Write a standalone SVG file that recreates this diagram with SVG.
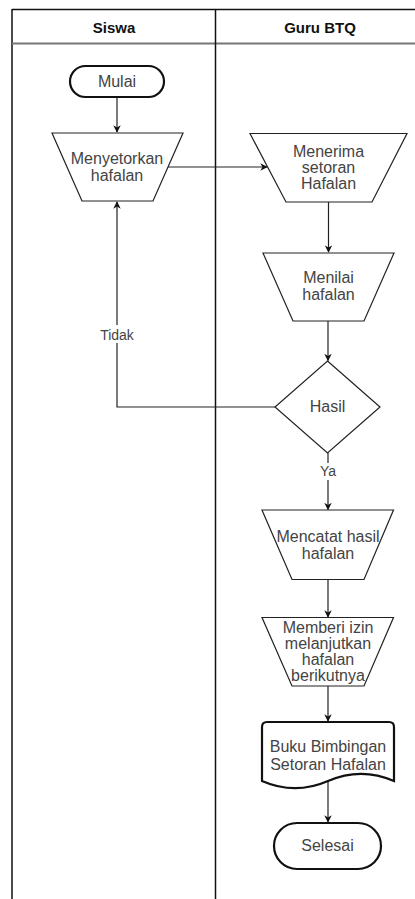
<svg xmlns="http://www.w3.org/2000/svg" width="415" height="899" viewBox="0 0 415 899">
<style>
.t{font-family:"Liberation Sans",Arial,sans-serif;font-size:16px;fill:#444;text-anchor:middle}
.h{font-family:"Liberation Sans",Arial,sans-serif;font-size:15px;font-weight:bold;fill:#111;text-anchor:middle}
.l{font-family:"Liberation Sans",Arial,sans-serif;font-size:14px;fill:#444;text-anchor:middle}
.s{fill:#fff;stroke:#222;stroke-width:1.2}
.k{fill:#fff;stroke:#111;stroke-width:2.2}
.c{fill:none;stroke:#222;stroke-width:1.2}
</style>
<defs>
<marker id="a" viewBox="0 0 10 10" refX="9" refY="5" markerWidth="7.5" markerHeight="7.5" orient="auto" markerUnits="userSpaceOnUse">
<path d="M0,0 L10,5 L0,10 L3,5 Z" fill="#111"/>
</marker>
</defs>
<rect width="415" height="899" fill="#fff"/>
<g id="pool">
<line x1="12" y1="9.5" x2="415" y2="9.5" stroke="#111" stroke-width="1.5"/>
<line x1="12" y1="9" x2="12" y2="899" stroke="#111" stroke-width="1.5"/>
<line x1="12" y1="43.5" x2="415" y2="43.5" stroke="#777" stroke-width="2"/>
<line x1="215.5" y1="9" x2="215.5" y2="899" stroke="#111" stroke-width="1.5"/>
<text class="h" x="114" y="32.5">Siswa</text>
<text class="h" x="320" y="32.5">Guru BTQ</text>
</g>
<g id="connectors">
<line class="c" x1="117" y1="97" x2="117" y2="132" marker-end="url(#a)"/>
<line class="c" x1="168" y1="167" x2="267" y2="167" marker-end="url(#a)"/>
<line class="c" x1="328.5" y1="202" x2="328.5" y2="252" marker-end="url(#a)"/>
<line class="c" x1="328" y1="321" x2="328" y2="360.5" marker-end="url(#a)"/>
<polyline class="c" points="275.5,407 117,407 117,202" marker-end="url(#a)"/>
<line class="c" x1="328" y1="453" x2="328" y2="509.5" marker-end="url(#a)"/>
<line class="c" x1="328" y1="579.5" x2="328" y2="617" marker-end="url(#a)"/>
<line class="c" x1="328" y1="686" x2="328" y2="721" marker-end="url(#a)"/>
<line class="c" x1="328" y1="781" x2="328" y2="822" marker-end="url(#a)"/>
<rect x="97" y="325" width="40" height="18" fill="#fff"/>
<text class="l" x="117" y="339.5">Tidak</text>
<rect x="318" y="463" width="20" height="17" fill="#fff"/>
<text class="l" x="328" y="476">Ya</text>
</g>
<g id="mulai">
<rect class="k" x="70" y="66" width="94" height="31" rx="15.5"/>
<text class="t" x="117" y="87">Mulai</text>
</g>
<g id="menyetorkan">
<polygon class="s" points="52,133 183,133 153,201 82,201"/>
<text class="t" x="117" y="163.5">Menyetorkan</text>
<text class="t" x="117" y="180.5">hafalan</text>
</g>
<g id="menerima">
<polygon class="s" points="250,133.5 407,133.5 372,202 286,202"/>
<text class="t" x="328.5" y="156.7">Menerima</text>
<text class="t" x="328.5" y="172.7">setoran</text>
<text class="t" x="328.5" y="189">Hafalan</text>
</g>
<g id="menilai">
<polygon class="s" points="263,253 394,253 364,321 293,321"/>
<text class="t" x="328.5" y="283.3">Menilai</text>
<text class="t" x="328.5" y="300">hafalan</text>
</g>
<g id="hasil">
<polygon class="s" points="327.5,361 380,407 327.5,453 275,407"/>
<text class="t" x="327.5" y="412">Hasil</text>
</g>
<g id="mencatat">
<polygon class="s" points="262,510 393.5,510 364,579.5 292,579.5"/>
<text class="t" x="328" y="541.7">Mencatat hasil</text>
<text class="t" x="328" y="559">hafalan</text>
</g>
<g id="memberi">
<polygon class="s" points="262,617.5 393.5,617.5 364,686 292,686"/>
<text class="t" x="328" y="632.7">Memberi izin</text>
<text class="t" x="328" y="649">melanjutkan</text>
<text class="t" x="328" y="665">hafalan</text>
<text class="t" x="328" y="681">berikutnya</text>
</g>
<g id="buku">
<path class="k" d="M262,727 Q262,722 267,722 L389,722 Q394,722 394,727 L394,781 Q361,766.6 328,781 Q295,795.4 262,781 Z"/>
<text class="t" x="328" y="752.3">Buku Bimbingan</text>
<text class="t" x="328" y="770">Setoran Hafalan</text>
</g>
<g id="selesai">
<rect class="k" x="274" y="823" width="107" height="46" rx="23"/>
<text class="t" x="327.5" y="850.5">Selesai</text>
</g>
</svg>
